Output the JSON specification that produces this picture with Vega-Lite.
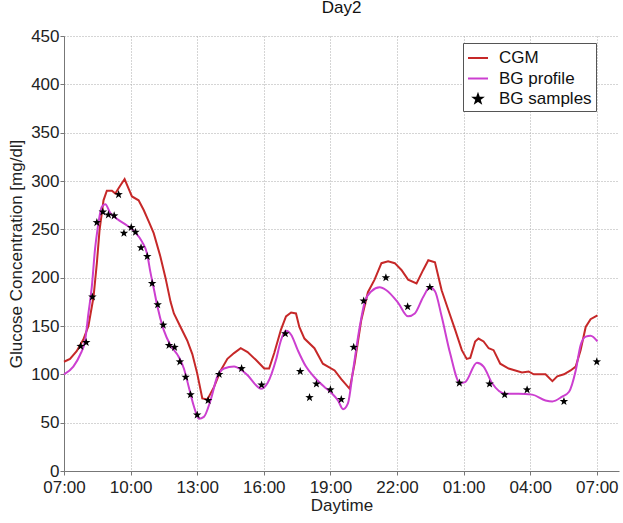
{
  "$schema": "https://vega.github.io/schema/vega-lite/v6.json",
  "width": 555,
  "height": 435,
  "autosize": "none",
  "padding": {"left": 64, "top": 36, "right": 4, "bottom": 52},
  "background": "white",
  "title": {"text": "Day2", "fontSize": 17, "font": "Liberation Sans", "fontWeight": "normal", "color": "#111", "offset": 10},
  "config": {
    "view": {"stroke": null},
    "axis": {
      "labelFont": "Liberation Sans", "labelFontSize": 17, "labelColor": "#222",
      "titleFont": "Liberation Sans", "titleFontSize": 17, "titleFontWeight": "normal", "titleColor": "#222",
      "domainColor": "#777", "tickColor": "#777", "tickSize": 4,
      "grid": true, "gridColor": "#aaa", "gridDash": [1, 2]
    }
  },
  "datasets": {
    "cgm": [
      {"series": "CGM", "h": 0, "v": 113}, {"series": "CGM", "h": 0.27, "v": 116}, {"series": "CGM", "h": 0.57, "v": 124},
      {"series": "CGM", "h": 0.87, "v": 136}, {"series": "CGM", "h": 1.1, "v": 150}, {"series": "CGM", "h": 1.33, "v": 180},
      {"series": "CGM", "h": 1.48, "v": 215}, {"series": "CGM", "h": 1.6, "v": 249}, {"series": "CGM", "h": 1.78, "v": 280},
      {"series": "CGM", "h": 1.93, "v": 290}, {"series": "CGM", "h": 2.16, "v": 290}, {"series": "CGM", "h": 2.31, "v": 287},
      {"series": "CGM", "h": 2.53, "v": 295}, {"series": "CGM", "h": 2.73, "v": 302}, {"series": "CGM", "h": 2.91, "v": 292},
      {"series": "CGM", "h": 3.06, "v": 284}, {"series": "CGM", "h": 3.36, "v": 280}, {"series": "CGM", "h": 3.59, "v": 270},
      {"series": "CGM", "h": 3.82, "v": 258}, {"series": "CGM", "h": 4.04, "v": 246}, {"series": "CGM", "h": 4.34, "v": 222},
      {"series": "CGM", "h": 4.57, "v": 200}, {"series": "CGM", "h": 4.8, "v": 175}, {"series": "CGM", "h": 4.95, "v": 163},
      {"series": "CGM", "h": 5.25, "v": 149}, {"series": "CGM", "h": 5.55, "v": 135}, {"series": "CGM", "h": 5.78, "v": 121},
      {"series": "CGM", "h": 6.0, "v": 101}, {"series": "CGM", "h": 6.23, "v": 75}, {"series": "CGM", "h": 6.46, "v": 74},
      {"series": "CGM", "h": 6.76, "v": 87}, {"series": "CGM", "h": 7.06, "v": 104}, {"series": "CGM", "h": 7.36, "v": 116},
      {"series": "CGM", "h": 7.66, "v": 122}, {"series": "CGM", "h": 7.96, "v": 127}, {"series": "CGM", "h": 8.27, "v": 123},
      {"series": "CGM", "h": 8.64, "v": 115}, {"series": "CGM", "h": 9.02, "v": 106}, {"series": "CGM", "h": 9.24, "v": 106},
      {"series": "CGM", "h": 9.47, "v": 122}, {"series": "CGM", "h": 9.77, "v": 146}, {"series": "CGM", "h": 10.0, "v": 160},
      {"series": "CGM", "h": 10.23, "v": 164}, {"series": "CGM", "h": 10.45, "v": 163}, {"series": "CGM", "h": 10.6, "v": 149},
      {"series": "CGM", "h": 10.83, "v": 137}, {"series": "CGM", "h": 11.28, "v": 127}, {"series": "CGM", "h": 11.66, "v": 111},
      {"series": "CGM", "h": 12.19, "v": 104}, {"series": "CGM", "h": 12.49, "v": 95}, {"series": "CGM", "h": 12.87, "v": 85},
      {"series": "CGM", "h": 13.09, "v": 111}, {"series": "CGM", "h": 13.39, "v": 156}, {"series": "CGM", "h": 13.69, "v": 185},
      {"series": "CGM", "h": 13.99, "v": 198}, {"series": "CGM", "h": 14.3, "v": 215}, {"series": "CGM", "h": 14.6, "v": 217},
      {"series": "CGM", "h": 14.9, "v": 215}, {"series": "CGM", "h": 15.2, "v": 208}, {"series": "CGM", "h": 15.5, "v": 198},
      {"series": "CGM", "h": 15.88, "v": 194}, {"series": "CGM", "h": 16.18, "v": 208}, {"series": "CGM", "h": 16.41, "v": 218},
      {"series": "CGM", "h": 16.71, "v": 216}, {"series": "CGM", "h": 17.01, "v": 187}, {"series": "CGM", "h": 17.32, "v": 166},
      {"series": "CGM", "h": 17.62, "v": 146}, {"series": "CGM", "h": 17.92, "v": 125}, {"series": "CGM", "h": 18.14, "v": 116},
      {"series": "CGM", "h": 18.3, "v": 117}, {"series": "CGM", "h": 18.52, "v": 134}, {"series": "CGM", "h": 18.67, "v": 137},
      {"series": "CGM", "h": 18.9, "v": 134}, {"series": "CGM", "h": 19.13, "v": 127}, {"series": "CGM", "h": 19.35, "v": 125},
      {"series": "CGM", "h": 19.65, "v": 111}, {"series": "CGM", "h": 20.03, "v": 106}, {"series": "CGM", "h": 20.63, "v": 102},
      {"series": "CGM", "h": 20.93, "v": 103}, {"series": "CGM", "h": 21.16, "v": 100}, {"series": "CGM", "h": 21.69, "v": 100},
      {"series": "CGM", "h": 22.0, "v": 93}, {"series": "CGM", "h": 22.22, "v": 98}, {"series": "CGM", "h": 22.52, "v": 100},
      {"series": "CGM", "h": 22.82, "v": 104}, {"series": "CGM", "h": 23.05, "v": 108}, {"series": "CGM", "h": 23.27, "v": 125},
      {"series": "CGM", "h": 23.5, "v": 149}, {"series": "CGM", "h": 23.72, "v": 157}, {"series": "CGM", "h": 24.03, "v": 161}
    ],
    "bg": [
      {"series": "BG profile", "h": 0, "v": 100}, {"series": "BG profile", "h": 0.42, "v": 108}, {"series": "BG profile", "h": 0.72, "v": 120},
      {"series": "BG profile", "h": 0.95, "v": 135}, {"series": "BG profile", "h": 1.1, "v": 163}, {"series": "BG profile", "h": 1.25, "v": 190},
      {"series": "BG profile", "h": 1.4, "v": 230}, {"series": "BG profile", "h": 1.51, "v": 250}, {"series": "BG profile", "h": 1.7, "v": 273},
      {"series": "BG profile", "h": 1.86, "v": 276}, {"series": "BG profile", "h": 2.08, "v": 267}, {"series": "BG profile", "h": 2.38, "v": 261},
      {"series": "BG profile", "h": 2.84, "v": 254}, {"series": "BG profile", "h": 3.21, "v": 247}, {"series": "BG profile", "h": 3.52, "v": 237},
      {"series": "BG profile", "h": 3.74, "v": 225}, {"series": "BG profile", "h": 3.89, "v": 206}, {"series": "BG profile", "h": 4.07, "v": 186},
      {"series": "BG profile", "h": 4.19, "v": 172}, {"series": "BG profile", "h": 4.49, "v": 146}, {"series": "BG profile", "h": 4.8, "v": 130},
      {"series": "BG profile", "h": 5.17, "v": 118}, {"series": "BG profile", "h": 5.4, "v": 106}, {"series": "BG profile", "h": 5.62, "v": 87},
      {"series": "BG profile", "h": 5.85, "v": 67}, {"series": "BG profile", "h": 6.08, "v": 54}, {"series": "BG profile", "h": 6.3, "v": 56},
      {"series": "BG profile", "h": 6.6, "v": 73}, {"series": "BG profile", "h": 6.91, "v": 98}, {"series": "BG profile", "h": 7.21, "v": 106},
      {"series": "BG profile", "h": 7.66, "v": 108}, {"series": "BG profile", "h": 7.81, "v": 107}, {"series": "BG profile", "h": 8.27, "v": 99},
      {"series": "BG profile", "h": 8.64, "v": 89}, {"series": "BG profile", "h": 8.87, "v": 85}, {"series": "BG profile", "h": 9.17, "v": 91},
      {"series": "BG profile", "h": 9.55, "v": 115}, {"series": "BG profile", "h": 9.77, "v": 135}, {"series": "BG profile", "h": 10.0, "v": 145},
      {"series": "BG profile", "h": 10.23, "v": 141}, {"series": "BG profile", "h": 10.53, "v": 125}, {"series": "BG profile", "h": 10.9, "v": 108},
      {"series": "BG profile", "h": 11.28, "v": 97}, {"series": "BG profile", "h": 11.73, "v": 87}, {"series": "BG profile", "h": 12.04, "v": 81},
      {"series": "BG profile", "h": 12.34, "v": 73}, {"series": "BG profile", "h": 12.57, "v": 64}, {"series": "BG profile", "h": 12.79, "v": 70},
      {"series": "BG profile", "h": 13.02, "v": 104}, {"series": "BG profile", "h": 13.32, "v": 149}, {"series": "BG profile", "h": 13.55, "v": 175},
      {"series": "BG profile", "h": 13.85, "v": 186}, {"series": "BG profile", "h": 14.22, "v": 190}, {"series": "BG profile", "h": 14.52, "v": 187},
      {"series": "BG profile", "h": 15.05, "v": 174}, {"series": "BG profile", "h": 15.5, "v": 160}, {"series": "BG profile", "h": 15.8, "v": 163},
      {"series": "BG profile", "h": 16.18, "v": 180}, {"series": "BG profile", "h": 16.48, "v": 190}, {"series": "BG profile", "h": 16.71, "v": 186},
      {"series": "BG profile", "h": 17.01, "v": 160}, {"series": "BG profile", "h": 17.39, "v": 122}, {"series": "BG profile", "h": 17.84, "v": 91},
      {"series": "BG profile", "h": 18.07, "v": 92}, {"series": "BG profile", "h": 18.6, "v": 112}, {"series": "BG profile", "h": 18.9, "v": 108},
      {"series": "BG profile", "h": 19.28, "v": 91}, {"series": "BG profile", "h": 19.88, "v": 80}, {"series": "BG profile", "h": 20.48, "v": 80},
      {"series": "BG profile", "h": 21.09, "v": 79}, {"series": "BG profile", "h": 21.69, "v": 73}, {"series": "BG profile", "h": 22.0, "v": 72},
      {"series": "BG profile", "h": 22.44, "v": 77}, {"series": "BG profile", "h": 22.75, "v": 82}, {"series": "BG profile", "h": 23.05, "v": 104},
      {"series": "BG profile", "h": 23.27, "v": 130}, {"series": "BG profile", "h": 23.5, "v": 139}, {"series": "BG profile", "h": 23.72, "v": 140},
      {"series": "BG profile", "h": 24.03, "v": 134}
    ],
    "samples": [
      {"series": "BG samples", "h": 0.75, "v": 129}, {"series": "BG samples", "h": 1.0, "v": 133}, {"series": "BG samples", "h": 1.28, "v": 180},
      {"series": "BG samples", "h": 1.48, "v": 257}, {"series": "BG samples", "h": 1.75, "v": 268}, {"series": "BG samples", "h": 2.0, "v": 265},
      {"series": "BG samples", "h": 2.26, "v": 264}, {"series": "BG samples", "h": 2.46, "v": 286}, {"series": "BG samples", "h": 2.7, "v": 246},
      {"series": "BG samples", "h": 3.03, "v": 252}, {"series": "BG samples", "h": 3.22, "v": 247}, {"series": "BG samples", "h": 3.47, "v": 231},
      {"series": "BG samples", "h": 3.75, "v": 222}, {"series": "BG samples", "h": 3.97, "v": 194}, {"series": "BG samples", "h": 4.22, "v": 172},
      {"series": "BG samples", "h": 4.47, "v": 151}, {"series": "BG samples", "h": 4.73, "v": 130}, {"series": "BG samples", "h": 4.98, "v": 128},
      {"series": "BG samples", "h": 5.22, "v": 113}, {"series": "BG samples", "h": 5.48, "v": 97}, {"series": "BG samples", "h": 5.7, "v": 79},
      {"series": "BG samples", "h": 6.0, "v": 58}, {"series": "BG samples", "h": 6.49, "v": 73}, {"series": "BG samples", "h": 6.99, "v": 100},
      {"series": "BG samples", "h": 8.0, "v": 106}, {"series": "BG samples", "h": 8.9, "v": 89}, {"series": "BG samples", "h": 9.97, "v": 142},
      {"series": "BG samples", "h": 10.64, "v": 103}, {"series": "BG samples", "h": 11.06, "v": 76}, {"series": "BG samples", "h": 11.37, "v": 90},
      {"series": "BG samples", "h": 12.0, "v": 84}, {"series": "BG samples", "h": 12.49, "v": 74}, {"series": "BG samples", "h": 13.05, "v": 128},
      {"series": "BG samples", "h": 13.5, "v": 176}, {"series": "BG samples", "h": 14.5, "v": 200}, {"series": "BG samples", "h": 15.48, "v": 170},
      {"series": "BG samples", "h": 16.48, "v": 190}, {"series": "BG samples", "h": 17.81, "v": 91}, {"series": "BG samples", "h": 19.17, "v": 90},
      {"series": "BG samples", "h": 19.85, "v": 79}, {"series": "BG samples", "h": 20.86, "v": 84}, {"series": "BG samples", "h": 22.52, "v": 72},
      {"series": "BG samples", "h": 24.0, "v": 113}
    ]
  },
  "layer": [
    {
      "data": {"name": "cgm"},
      "mark": {"type": "line", "strokeWidth": 2},
      "encoding": {
        "x": {
          "field": "h", "type": "quantitative",
          "scale": {"domain": [0, 25], "nice": false, "zero": false},
          "axis": {
            "title": "Daytime", "values": [0, 3, 6, 9, 12, 15, 18, 21, 24],
            "labelExpr": "((datum.value + 7) % 24 < 10 ? '0' : '') + ((datum.value + 7) % 24) + ':00'",
            "labelPadding": 4, "titlePadding": 2, "labelFlush": false
          }
        },
        "y": {
          "field": "v", "type": "quantitative",
          "scale": {"domain": [0, 450], "nice": false},
          "axis": {
            "title": "Glucose Concentration [mg/dl]", "values": [0, 50, 100, 150, 200, 250, 300, 350, 400, 450],
            "labelPadding": 1, "titlePadding": 5
          }
        },
        "color": {
          "field": "series", "type": "nominal",
          "scale": {"domain": ["CGM", "BG profile", "BG samples"], "range": ["#c62828", "#cc3fd0", "#000000"]},
          "legend": {
            "title": null, "orient": "none", "legendX": 399, "legendY": 7,
            "strokeColor": "#555", "fillColor": "white", "padding": 4,
            "labelFont": "Liberation Sans", "labelFontSize": 17, "labelColor": "#111",
            "symbolType": "stroke", "symbolSize": 400, "symbolStrokeWidth": 2,
            "labelOffset": 10, "rowPadding": 1.5,
            "encode": {
              "symbols": {
                "update": {
                  "shape": {"signal": "datum.value === 'BG samples' ? 'M0,-1L0.235,-0.324L0.951,-0.309L0.38,0.124L0.588,0.809L0,0.4L-0.588,0.809L-0.38,0.124L-0.951,-0.309L-0.235,-0.324Z' : 'stroke'"},
                  "size": {"signal": "datum.value === 'BG samples' ? 70 : 400"},
                  "fill": {"signal": "datum.value === 'BG samples' ? '#000000' : 'transparent'"},
                  "stroke": {"signal": "datum.value === 'BG samples' ? 'transparent' : (datum.value === 'CGM' ? '#c62828' : '#cc3fd0')"},
                  "strokeWidth": {"value": 2}
                }
              }
            }
          }
        }
      }
    },
    {
      "data": {"name": "bg"},
      "mark": {"type": "line", "strokeWidth": 2, "interpolate": "monotone"},
      "encoding": {
        "x": {"field": "h", "type": "quantitative"},
        "y": {"field": "v", "type": "quantitative"},
        "color": {"field": "series", "type": "nominal"}
      }
    },
    {
      "data": {"name": "samples"},
      "mark": {
        "type": "point",
        "shape": "M0,-1L0.235,-0.324L0.951,-0.309L0.38,0.124L0.588,0.809L0,0.4L-0.588,0.809L-0.38,0.124L-0.951,-0.309L-0.235,-0.324Z",
        "filled": true, "size": 80, "opacity": 1
      },
      "encoding": {
        "x": {"field": "h", "type": "quantitative"},
        "y": {"field": "v", "type": "quantitative"},
        "color": {"field": "series", "type": "nominal"}
      }
    }
  ]
}
